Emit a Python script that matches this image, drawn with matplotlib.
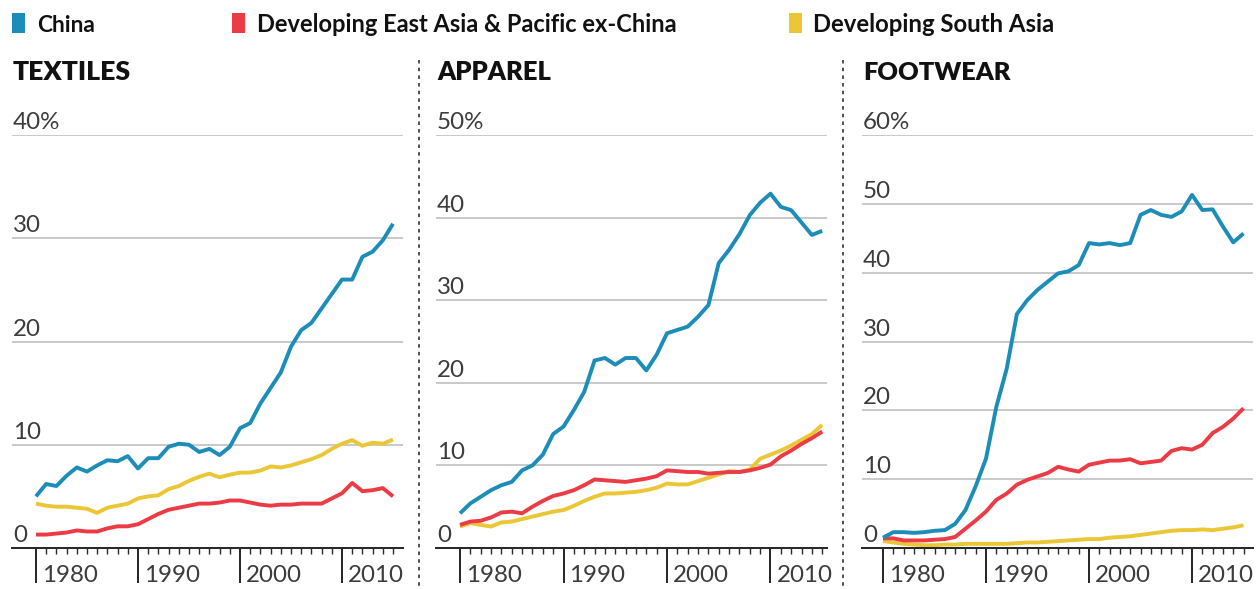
import matplotlib
matplotlib.use('Agg')
import matplotlib.pyplot as plt
from matplotlib.patches import Rectangle
from matplotlib.lines import Line2D

# ---------------- data ----------------
years = list(range(1980, 2016))
series_names = ['China', 'Developing East Asia & Pacific ex-China', 'Developing South Asia']
panel_titles = ['TEXTILES', 'APPAREL', 'FOOTWEAR']
y_maxes = [40, 50, 60]
decade_ticks = [1980, 1990, 2000, 2010]

textiles_china = [5.0, 6.2, 6.0, 7.0, 7.8, 7.4, 8.0, 8.5, 8.4, 8.9,
                  7.7, 8.7, 8.7, 9.8, 10.1, 10.0, 9.3, 9.6, 9.0, 9.8,
                  11.6, 12.1, 14.0, 15.5, 17.0, 19.5, 21.1, 21.8, 23.2, 24.6,
                  26.0, 26.0, 28.2, 28.7, 29.8, 31.4]
textiles_eap = [1.3, 1.3, 1.4, 1.5, 1.7, 1.6, 1.6, 1.9, 2.1, 2.1,
                2.3, 2.8, 3.3, 3.7, 3.9, 4.1, 4.3, 4.3, 4.4, 4.6,
                4.6, 4.4, 4.2, 4.1, 4.2, 4.2, 4.3, 4.3, 4.3, 4.8,
                5.3, 6.3, 5.5, 5.6, 5.8, 5.0]
textiles_sa = [4.3, 4.1, 4.0, 4.0, 3.9, 3.8, 3.4, 3.9, 4.1, 4.3,
               4.8, 5.0, 5.1, 5.7, 6.0, 6.5, 6.9, 7.2, 6.85, 7.1,
               7.3, 7.3, 7.5, 7.9, 7.8, 8.0, 8.3, 8.6, 9.0, 9.6,
               10.1, 10.45, 9.9, 10.2, 10.1, 10.5]

apparel_china = [4.2, 5.4, 6.2, 7.0, 7.6, 8.0, 9.4, 10.0, 11.3, 13.8,
                 14.7, 16.7, 18.9, 22.7, 23.0, 22.2, 23.0, 23.0, 21.5, 23.4,
                 26.0, 26.4, 26.8, 28.0, 29.4, 34.5, 36.1, 38.0, 40.3, 41.8,
                 42.9, 41.3, 40.9, 39.4, 37.9, 38.4]
apparel_eap = [2.8, 3.2, 3.3, 3.7, 4.3, 4.4, 4.2, 5.0, 5.7, 6.3,
               6.6, 7.0, 7.6, 8.3, 8.2, 8.1, 8.0, 8.2, 8.4, 8.7,
               9.4, 9.3, 9.2, 9.2, 9.0, 9.1, 9.2, 9.2, 9.4, 9.7,
               10.1, 11.1, 11.8, 12.6, 13.3, 14.1]
apparel_sa = [2.6, 3.0, 2.8, 2.6, 3.1, 3.2, 3.5, 3.8, 4.1, 4.4,
              4.6, 5.1, 5.7, 6.2, 6.6, 6.6, 6.7, 6.8, 7.0, 7.3,
              7.8, 7.7, 7.7, 8.1, 8.5, 8.9, 9.3, 9.2, 9.5, 10.8,
              11.3, 11.8, 12.4, 13.1, 13.8, 14.9]

footwear_china = [1.5, 2.3, 2.3, 2.2, 2.3, 2.5, 2.6, 3.5, 5.5, 9.0,
                  13.0, 20.5, 26.0, 34.0, 36.0, 37.5, 38.7, 39.9, 40.2, 41.1,
                  44.3, 44.1, 44.3, 44.0, 44.3, 48.4, 49.1, 48.4, 48.1, 48.9,
                  51.3, 49.1, 49.2, 46.7, 44.4, 45.7]
footwear_eap = [1.4, 1.4, 1.1, 1.1, 1.1, 1.2, 1.3, 1.6, 2.8, 4.0,
                5.3, 7.0, 7.9, 9.2, 9.9, 10.4, 10.9, 11.8, 11.4, 11.1,
                12.1, 12.4, 12.7, 12.7, 12.9, 12.3, 12.5, 12.7, 14.1, 14.5,
                14.3, 15.0, 16.7, 17.6, 18.8, 20.3]
footwear_sa = [1.0, 0.8, 0.6, 0.5, 0.4, 0.4, 0.5, 0.5, 0.6, 0.6,
               0.6, 0.6, 0.6, 0.7, 0.8, 0.8, 0.9, 1.0, 1.1, 1.2,
               1.3, 1.3, 1.5, 1.6, 1.7, 1.9, 2.1, 2.3, 2.5, 2.6,
               2.6, 2.7, 2.6, 2.8, 3.0, 3.3]

panels = [
    (textiles_china, textiles_eap, textiles_sa),
    (apparel_china, apparel_eap, apparel_sa),
    (footwear_china, footwear_eap, footwear_sa),
]

# ---------------- style ----------------
W, H = 1257, 589
DPI = 100
C_BLUE = '#1b8db8'
C_RED = '#ec3b44'
C_YEL = '#ebc736'
colors = [C_BLUE, C_RED, C_YEL]
GRID = '#bdbdbd'
DARK = '#2a2a2a'
NUM = '#3c3c3c'
FONT = ['Lato', 'DejaVu Sans']
plt.rcParams['font.family'] = FONT

fig = plt.figure(figsize=(W / DPI, H / DPI), dpi=DPI)
fig.patch.set_facecolor('white')
renderer = fig.canvas.get_renderer()


def fx(px):
    return px / W


def fy(py):
    return 1 - py / H


def fit(txt, target_w):
    bb = txt.get_window_extent(renderer)
    txt.set_fontsize(txt.get_fontsize() * target_w / bb.width)
    return txt


PT = 72.0 / DPI  # points per pixel

# panel geometry (pixels)
lefts = [12, 436, 862]
width = 391
top_px, zero_px = 135, 548
xlims = [(1977.65, 2015.98), (1977.68, 2015.46), (1977.96, 2015.92)]
title_widths = [118, 114, 147]

# measure tick label size
probe = fig.text(0, 0, '1980', fontsize=20, fontweight='normal')
fit(probe, 56)
tick_fs = probe.get_fontsize()
probe.remove()

for i in range(3):
    ax = fig.add_axes([fx(lefts[i]), fy(zero_px), fx(width), (zero_px - top_px) / H])
    ax.set_xlim(*xlims[i])
    ax.set_ylim(0, y_maxes[i])
    ax.set_facecolor('none')
    for s in ['top', 'right', 'left']:
        ax.spines[s].set_visible(False)
    ax.spines['bottom'].set_color(DARK)
    ax.spines['bottom'].set_linewidth(2.0 * PT)
    ax.spines['bottom'].set_zorder(5)

    # gridlines
    for v in range(10, y_maxes[i] + 1, 10):
        ax.axhline(v, color=GRID, lw=1.6 * PT, zorder=1)
    # y labels
    for v in range(0, y_maxes[i] + 1, 10):
        lab = f'{v}%' if v == y_maxes[i] else f'{v}'
        ax.annotate(lab, xy=(0, v), xycoords=('axes fraction', 'data'),
                    xytext=(1 * PT, 6 * PT), textcoords='offset points',
                    ha='left', va='baseline', fontsize=tick_fs,
                    fontweight='normal', color=NUM, annotation_clip=False)

    # ticks
    ax.set_yticks([])
    ax.set_xticks(decade_ticks)
    ax.set_xticks(years, minor=True)
    ax.set_xticklabels([])
    ax.tick_params(axis='x', which='major', direction='out', length=35 * PT,
                   width=2.0 * PT, color=DARK)
    ax.tick_params(axis='x', which='minor', direction='out', length=6 * PT,
                   width=1.4 * PT, color=DARK)
    for d in decade_ticks:
        ax.annotate(str(d), xy=(d, 0), xycoords=('data', 'axes fraction'),
                    xytext=(6 * PT, -34 * PT), textcoords='offset points',
                    ha='left', va='baseline', fontsize=tick_fs,
                    fontweight='normal', color=NUM, annotation_clip=False)

    # lines (south asia, east asia, china on top)
    ch, ea, sa = panels[i]
    lw = 3.9 * PT
    ax.plot(years, sa, color=C_YEL, lw=lw, zorder=3, clip_on=False,
            solid_joinstyle='round', solid_capstyle='butt')
    ax.plot(years, ea, color=C_RED, lw=lw, zorder=3.1, clip_on=False,
            solid_joinstyle='round', solid_capstyle='butt')
    ax.plot(years, ch, color=C_BLUE, lw=lw, zorder=3.2, clip_on=False,
            solid_joinstyle='round', solid_capstyle='butt')

    # title
    t = fig.text(fx(lefts[i] + 1), fy(80), panel_titles[i], ha='left', va='baseline',
                 fontsize=20, fontweight='heavy', color='#111111')
    fit(t, title_widths[i])

# separators
for sx in [419, 843]:
    fig.add_artist(Line2D([fx(sx), fx(sx)], [fy(60), fy(589)], transform=fig.transFigure,
                          color=DARK, lw=1.6 * PT, linestyle=(0, (2.2, 2.6))))

# legend
legend_sq = [12, 232, 789]
legend_tx = [37, 257, 813]
legend_w = [58, 420, 242]
for i in range(3):
    fig.add_artist(Rectangle((fx(legend_sq[i]), fy(33)), fx(13), 20 / H,
                             transform=fig.transFigure, color=colors[i], lw=0))
    t = fig.text(fx(legend_tx[i]), fy(31.5), series_names[i], ha='left', va='baseline',
                 fontsize=16, fontweight='bold', color='#111111')
    fit(t, legend_w[i])

fig.savefig('out.png', dpi=DPI, facecolor='white')
